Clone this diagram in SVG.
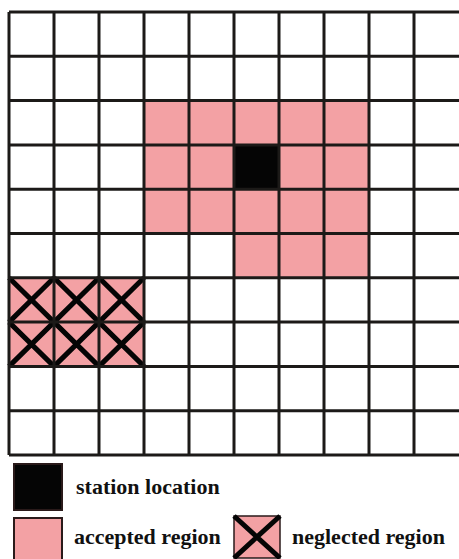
<svg xmlns="http://www.w3.org/2000/svg" width="459" height="559" viewBox="0 0 459 559">
<style>
.pink{fill:#f3a1a4}
.blk{fill:#050505}
.grid{stroke:#1c1a18;stroke-width:3;fill:none}
.x{stroke:#050505;stroke-width:5;fill:none;stroke-linecap:butt}
.lbl{font-family:"Liberation Serif","Times New Roman",serif;font-weight:bold;font-size:22px;fill:#111}
</style>
<rect width="459" height="559" fill="#fff"/>
<g id="fills">
<rect class="pink" x="144" y="100.6" width="225" height="132.9"/>
<rect class="pink" x="234" y="233.5" width="135" height="44.3"/>
<rect class="blk" x="234" y="144.9" width="45" height="44.3"/>
<rect class="pink" x="9" y="277.8" width="135" height="88.6"/>
</g>
<g id="crosses">
<path class="x" d="M9,277.8 L54,322.1 M54,277.8 L9,322.1 M54,277.8 L99,322.1 M99,277.8 L54,322.1 M99,277.8 L144,322.1 M144,277.8 L99,322.1 M9,322.1 L54,366.4 M54,322.1 L9,366.4 M54,322.1 L99,366.4 M99,322.1 L54,366.4 M99,322.1 L144,366.4 M144,322.1 L99,366.4"/>
</g>
<g id="grid">
<path class="grid" d="M9,12V455 M54,12V455 M99,12V455 M144,12V455 M189,12V455 M234,12V455 M279,12V455 M324,12V455 M369,12V455 M414,12V455"/>
<path class="grid" d="M9,12H459 M9,56.3H459 M9,100.6H459 M9,144.9H459 M9,189.2H459 M9,233.5H459 M9,277.8H459 M9,322.1H459 M9,366.4H459 M9,410.7H459 M9,455H459"/>
</g>
<g id="legend-station">
<rect x="14" y="464" width="48" height="46" fill="#050505" stroke="#2a1a1a" stroke-width="2"/>
<text class="lbl" x="76" y="494">station location</text>
</g>
<g id="legend-accepted">
<rect x="14" y="518" width="48" height="46" class="pink" stroke="#2a1a1a" stroke-width="2"/>
<text class="lbl" x="74" y="544">accepted region</text>
</g>
<g id="legend-neglected">
<rect x="234" y="516" width="46" height="42" class="pink" stroke="#2a1a1a" stroke-width="1.5"/>
<path class="x" d="M234,516 L280,558 M280,516 L234,558"/>
<text class="lbl" x="292" y="544">neglected region</text>
</g>
</svg>
